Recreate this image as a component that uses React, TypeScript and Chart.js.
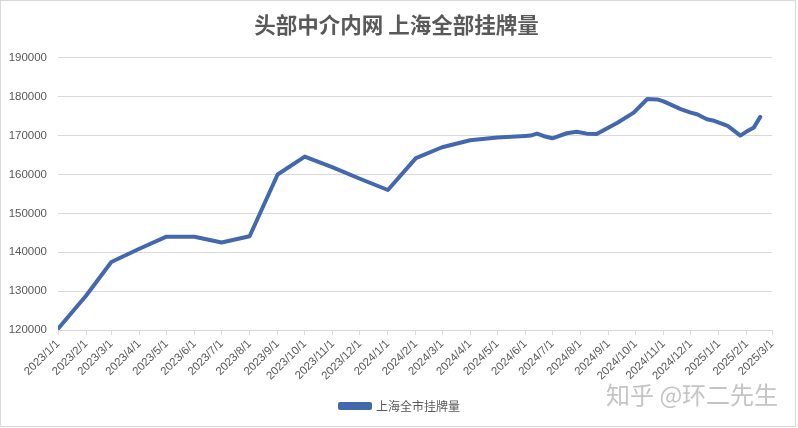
import React, { useEffect, useRef } from "react";
import { Chart, registerables } from "chart.js";

Chart.register(...registerables);

const chartTitle = "头部中介内网 上海全部挂牌量";
const seriesName = "上海全市挂牌量";
const watermark = "知乎 @环二先生";

const dates = [
  "2023/1/1", "2023/2/1", "2023/3/1", "2023/4/1", "2023/5/1", "2023/6/1",
  "2023/7/1", "2023/8/1", "2023/9/1", "2023/10/1", "2023/11/1", "2023/12/1",
  "2024/1/1", "2024/2/1", "2024/3/1", "2024/4/1", "2024/5/1", "2024/6/1",
  "2024/6/7", "2024/6/14", "2024/6/21", "2024/7/1", "2024/7/17", "2024/7/28",
  "2024/8/8", "2024/8/19", "2024/9/11", "2024/9/29", "2024/10/14", "2024/10/25",
  "2024/11/1", "2024/11/20", "2024/12/1", "2024/12/8", "2024/12/19", "2024/12/27",
  "2025/1/11", "2025/1/25", "2025/2/2", "2025/2/9", "2025/2/16",
];

const listings = [
  120300, 128800, 137500, 140900, 144000, 144000,
  142500, 144100, 160000, 164600, 161800, 158900,
  156000, 164200, 167000, 168800, 169500, 169900,
  170000, 170500, 169900, 169300, 170600, 171000,
  170500, 170400, 173300, 175900, 179400, 179300,
  178800, 176800, 175900, 175500, 174200, 173800,
  172500, 170000, 171200, 172100, 174800,
];

const monthTicks = [
  "2023/1/1", "2023/2/1", "2023/3/1", "2023/4/1", "2023/5/1", "2023/6/1",
  "2023/7/1", "2023/8/1", "2023/9/1", "2023/10/1", "2023/11/1", "2023/12/1",
  "2024/1/1", "2024/2/1", "2024/3/1", "2024/4/1", "2024/5/1", "2024/6/1",
  "2024/7/1", "2024/8/1", "2024/9/1", "2024/10/1", "2024/11/1", "2024/12/1",
  "2025/1/1", "2025/2/1", "2025/3/1",
];

const yMin = 120000;
const yMax = 190000;
const yStep = 10000;

const toDay = (s: string) => {
  const [y, m, d] = s.split("/").map(Number);
  return (Date.UTC(y, m - 1, d) - Date.UTC(2023, 0, 1)) / 86400000;
};

const shiftBoxes = {
  id: "shiftBoxes",
  afterLayout(chart: any) {
    if (chart.legend) chart.legend.left = 28;
    if (chart.titleBlock) chart.titleBlock.left = 21;
  },
};

export default function App() {
  const ref = useRef<HTMLCanvasElement | null>(null);

  useEffect(() => {
    if (!ref.current) return;
    const tickDays = monthTicks.map(toDay);
    const labelOf = new Map<number, string>();
    monthTicks.forEach((t) => labelOf.set(toDay(t), t));
    const grey = "#595959";
    const gridC = "#d9d9d9";
    const chart = new Chart(ref.current, {
      type: "line",
      data: {
        datasets: [
          {
            label: seriesName,
            data: dates.map((d, i) => ({ x: toDay(d), y: listings[i] })),
            borderColor: "#4468AD",
            backgroundColor: "#4468AD",
            borderWidth: 4,
            pointRadius: 0,
            tension: 0,
            borderJoinStyle: "round",
            borderCapStyle: "round",
          },
        ],
      },
      options: {
        responsive: false,
        animation: false,
        layout: { padding: { left: 0, right: 26, top: 0, bottom: 6 } },
        plugins: {
          title: {
            display: true,
            text: chartTitle,
            color: grey,
            font: { family: "'Noto Sans CJK SC', sans-serif", size: 21.5, weight: "bold" },
            padding: { top: 12, bottom: 20 },
          },
          legend: {
            display: true,
            position: "bottom",
            labels: {
              color: grey,
              font: { family: "'Noto Sans CJK SC', sans-serif", size: 12 },
              boxWidth: 30,
              boxHeight: 4,
              padding: 10,
            },
          },
          tooltip: { enabled: false },
        },
        scales: {
          x: {
            type: "linear",
            min: 0,
            max: toDay("2025/3/1"),
            afterBuildTicks: (scale: any) => {
              scale.ticks = tickDays.map((v) => ({ value: v }));
            },
            afterFit: (scale: any) => {
              scale.height = 60;
            },
            ticks: {
              autoSkip: false,
              maxRotation: 45,
              minRotation: 45,
              color: grey,
              font: { family: "'Liberation Sans', sans-serif", size: 11.5 },
              padding: 2,
              callback: (v: any) => labelOf.get(Number(v)) ?? "",
            },
            grid: {
              display: true,
              drawOnChartArea: false,
              drawTicks: true,
              tickLength: 5,
              color: gridC,
            },
            border: { display: true, color: gridC, width: 1 },
          },
          y: {
            min: yMin,
            max: yMax,
            afterFit: (scale: any) => {
              scale.width = 58;
            },
            ticks: {
              stepSize: yStep,
              color: grey,
              padding: 11,
              font: { family: "'Liberation Sans', sans-serif", size: 11.5 },
              callback: (v: any) => String(v),
            },
            grid: { color: gridC, drawTicks: false },
            border: { display: false },
          },
        },
      },
      plugins: [shiftBoxes],
    });
    return () => chart.destroy();
  }, []);

  return (
    <div style={{ position: "fixed", left: 0, top: 0, width: 798, height: 428, background: "#fff" }}>
      <canvas ref={ref} width={798} height={428} style={{ position: "absolute", left: 0, top: 0 }} />
      <div
        style={{
          position: "absolute",
          left: 0,
          top: 0,
          width: 796,
          height: 427,
          boxSizing: "border-box",
          border: "1px solid #d9d9d9",
          pointerEvents: "none",
        }}
      />
      <div
        style={{
          position: "absolute",
          left: 606,
          top: 379,
          fontFamily: "'Noto Sans CJK SC', sans-serif",
          fontSize: 24,
          color: "#c4c4c4",
          whiteSpace: "nowrap",
          lineHeight: "30px",
        }}
      >
        {watermark}
      </div>
    </div>
  );
}
